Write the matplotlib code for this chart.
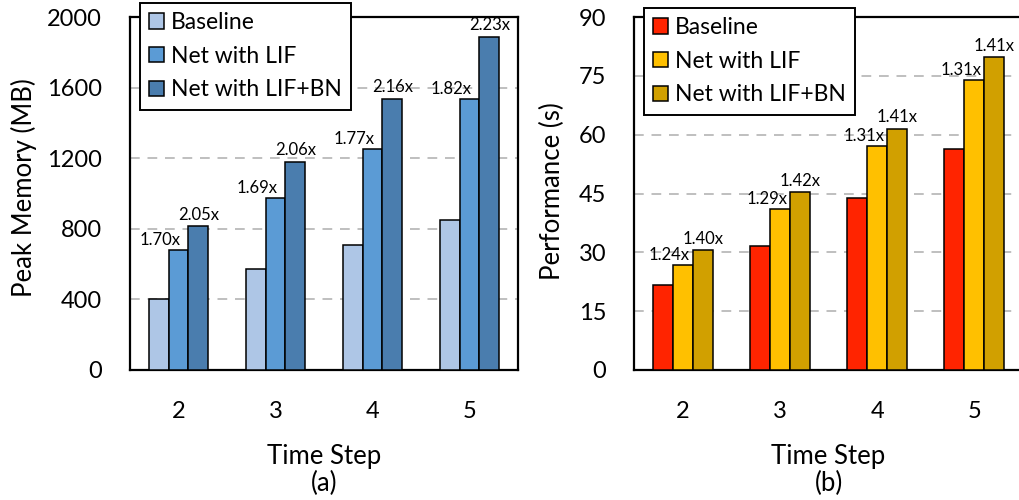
import matplotlib

matplotlib.use("Agg")
import matplotlib.pyplot as plt
import numpy as np

plt.rcParams["font.family"] = ["Lato", "DejaVu Sans"]

# values
steps = [2, 3, 4, 5]
series_names = ["Baseline", "Net with LIF", "Net with LIF+BN"]

mem_baseline = [400, 575, 707, 849]
mem_lif = [681, 973, 1254, 1537]
mem_lif_bn = [816, 1181, 1537, 1888]
mem_lif_ratio = ["1.70x", "1.69x", "1.77x", "1.82x"]
mem_bn_ratio = ["2.05x", "2.06x", "2.16x", "2.23x"]

perf_baseline = [21.7, 31.7, 43.8, 56.4]
perf_lif = [26.8, 41.1, 57.1, 73.9]
perf_lif_bn = [30.5, 45.3, 61.5, 79.7]
perf_lif_ratio = ["1.24x", "1.29x", "1.31x", "1.31x"]
perf_bn_ratio = ["1.40x", "1.42x", "1.41x", "1.41x"]

mem_ticks = [0, 400, 800, 1200, 1600, 2000]
perf_ticks = [0, 15, 30, 45, 60, 75, 90]

blues = ["#AEC6E6", "#5B9BD5", "#4A7DAE"]
golds = ["#FF2400", "#FFC000", "#D1A000"]

W = 0.206
TICK_FS = 17
LABEL_FS = 18.5
LEG_FS = 16.5


def panel(ax, data, ratios_lif, ratios_bn, colors, ticks, ylabel, tag, lif_shift):
    x = np.array(steps, dtype=float)
    for i, (vals, c) in enumerate(zip(data, colors)):
        ax.bar(x + (i - 1) * W, vals, W, color=c, edgecolor="black",
               linewidth=1.1, zorder=3, label=series_names[i])
    for xi, v, t in zip(x, data[1], ratios_lif):
        ax.annotate(t, (xi - lif_shift, v), xytext=(0, 1.5), textcoords="offset points",
                    ha="center", va="bottom", fontsize=12, zorder=4)
    for xi, v, t in zip(x + W, data[2], ratios_bn):
        ax.annotate(t, (xi, v), xytext=(0, 2.5), textcoords="offset points",
                    ha="center", va="bottom", fontsize=12, zorder=4)

    ax.set_xlim(1.5, 5.5)
    ax.set_ylim(ticks[0], ticks[-1])
    ax.set_yticks(ticks)
    ax.set_xticks(steps)
    ax.tick_params(axis="both", length=0, labelsize=TICK_FS)
    ax.tick_params(axis="y", pad=20)
    ax.tick_params(axis="x", pad=22)
    ax.yaxis.grid(True, color="#BFBFBF", linestyle=(0, (5, 4)), linewidth=1.4, zorder=0)
    ax.set_axisbelow(True)
    for s in ax.spines.values():
        s.set_linewidth(1.6)
        s.set_color("black")
    ax.set_xlabel("Time Step\n(" + tag + ")", fontsize=LABEL_FS, linespacing=1.12, labelpad=16)
    ax.set_ylabel(ylabel, fontsize=LABEL_FS)


fig = plt.figure(figsize=(10.19, 5.0), dpi=100)
ax1 = fig.add_axes([130 / 1019, 1 - 370 / 500, 388 / 1019, 353 / 500])
ax2 = fig.add_axes([634 / 1019, 1 - 370 / 500, 389 / 1019, 353 / 500])

panel(ax1, [mem_baseline, mem_lif, mem_lif_bn], mem_lif_ratio, mem_bn_ratio,
      blues, mem_ticks, "Peak Memory (MB)", "a", 0.19)
panel(ax2, [perf_baseline, perf_lif, perf_lif_bn], perf_lif_ratio, perf_bn_ratio,
      golds, perf_ticks, "Performance (s)", "b", 0.135)

ax1.yaxis.set_label_coords(-0.24, 0.518)
ax2.yaxis.set_label_coords(-0.177, 0.507)

for ax, (lx, ty) in ((ax1, (140, 3)), (ax2, (644, 8))):
    leg = ax.legend(loc="upper left", bbox_to_anchor=(lx / 1019, 1 - ty / 500),
                    bbox_transform=fig.transFigure, fontsize=LEG_FS, frameon=True,
                    fancybox=False, edgecolor="black", framealpha=1,
                    handlelength=0.66, handleheight=0.66, handletextpad=0.3,
                    labelspacing=0.55, borderpad=0.4, borderaxespad=0)
    leg.get_frame().set_linewidth(1.4)
    leg.set_zorder(10)

fig.savefig("out.png", dpi=100)
